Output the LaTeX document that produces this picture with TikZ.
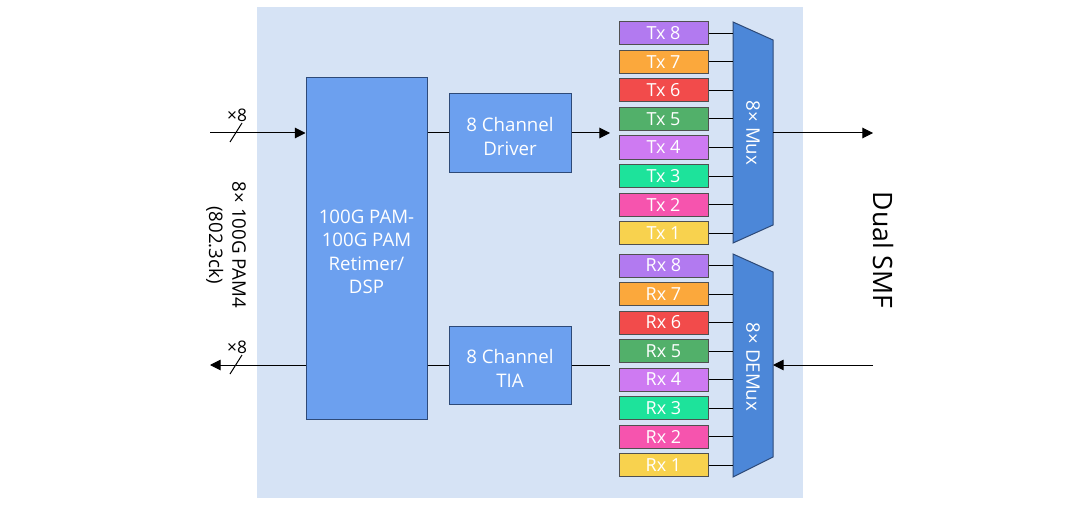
\documentclass[tikz,border=0pt]{standalone}
\usepackage{fontspec}
\setmainfont{Open Sans}
\usetikzlibrary{arrows.meta}
\definecolor{panel}{HTML}{D6E3F5}
\definecolor{blk}{HTML}{6CA0EF}
\definecolor{muxc}{HTML}{4C87D8}
\definecolor{edge}{HTML}{2E4A78}
\definecolor{chedge}{HTML}{505050}
\definecolor{ch8}{HTML}{B27AF0}
\definecolor{ch7}{HTML}{FBA83C}
\definecolor{ch6}{HTML}{F24B4B}
\definecolor{ch5}{HTML}{52B06A}
\definecolor{ch4}{HTML}{CE7AF2}
\definecolor{ch3}{HTML}{1DE39B}
\definecolor{ch2}{HTML}{F654AE}
\definecolor{ch1}{HTML}{F8D24E}

\begin{document}
\begin{tikzpicture}[x=0.75pt,y=-0.75pt,line width=0.75pt,
    blkbox/.style={draw=edge,fill=blk,inner sep=0pt},
    blktext/.style={text=white,align=center,yshift=-2.6pt,font=\fontsize{14}{17.5}\selectfont},
    chbox/.style={draw=chedge,text=white,inner sep=0pt,minimum width=66.75pt,minimum height=17.25pt,font=\fontsize{13.5}{15}\selectfont},
    arr/.style={-{Triangle[length=8pt,width=8pt]}},
    lbl/.style={font=\fontsize{14}{17.5}\selectfont,align=center}]
    \useasboundingbox (0,0) rectangle (1080,506);
    \fill[white] (0,0) rectangle (1080,506);
    \fill[panel] (257,7) rectangle (803,498);
    % blocks
    \node[blkbox,minimum width=90.75pt,minimum height=256.5pt,
        label={[blktext]center:{100G PAM-\\100G PAM\\Retimer/\\DSP}}] (dsp) at (366.5,248.5) {};
    \node[blkbox,minimum width=91.5pt,minimum height=58.5pt,
        label={[blktext]center:{8 Channel\\Driver}}] (drv) at (510,133) {};
    \node[blkbox,minimum width=91.5pt,minimum height=58.5pt,
        label={[blktext]center:{8 Channel\\TIA}}] (tia) at (510,365) {};
    % mux / demux
    \draw[edge,fill=muxc] (733,22) -- (773,40) -- (773,225) -- (733,243) -- cycle;
    \draw[edge,fill=muxc] (733,254) -- (773,272) -- (773,457) -- (733,477) -- cycle;
    \node[lbl,text=white,rotate=-90] (mux) at (753,133) {8× Mux};
    \node[lbl,text=white,rotate=-90] (demux) at (753,367) {8× DEMux};
    \coordinate (muxW) at (733,0);
    \coordinate (muxE) at (773,133);
    \coordinate (demuxE) at (773,365);
    % channels
    \foreach \i in {1,...,8} {
        \node[chbox,fill=ch\i] (tx\i) at (663.5,{33.5+28.5*(8-\i)}) {Tx \i};
        \node[chbox,fill=ch\i] (rx\i) at (663.5,{265.5+28.5*(8-\i)}) {Rx \i};
        \draw (tx\i.east) -- (tx\i.east -| muxW);
        \draw (rx\i.east) -- (rx\i.east -| muxW);
    }
    % end points
    \coordinate (inL) at (210,133);
    \coordinate (outL) at (210,365);
    \coordinate (txin) at (610,133);
    \coordinate (rxout) at (610,365);
    \coordinate (smfO) at (873,133);
    \coordinate (smfI) at (873,365);
    % connectors
    \draw[arr] (inL) -- (inL -| dsp.west);
    \draw[arr] (outL -| dsp.west) -- (outL);
    \draw (dsp.east |- drv.west) -- (drv.west);
    \draw (dsp.east |- tia.west) -- (tia.west);
    \draw[arr] (drv.east) -- (txin);
    \draw (tia.east) -- (rxout);
    \draw[arr] (muxE) -- (smfO);
    \draw[arr] (smfI) -- (demuxE);
    % bus marks
    \draw (230,142) -- (242,123);
    \draw (230,374) -- (242,355);
    \node[font=\fontsize{13}{15}\selectfont] (nin) at (237,115) {×8};
    \node[font=\fontsize{13}{15}\selectfont] (nout) at (237,347) {×8};
    \node[lbl,rotate=-90] (pam) at (226,245) {8× 100G PAM4\\(802.3ck)};
    \node[font=\fontsize{20}{24}\selectfont,rotate=-90] (smf) at (883,250) {Dual SMF};
\end{tikzpicture}
\end{document}
